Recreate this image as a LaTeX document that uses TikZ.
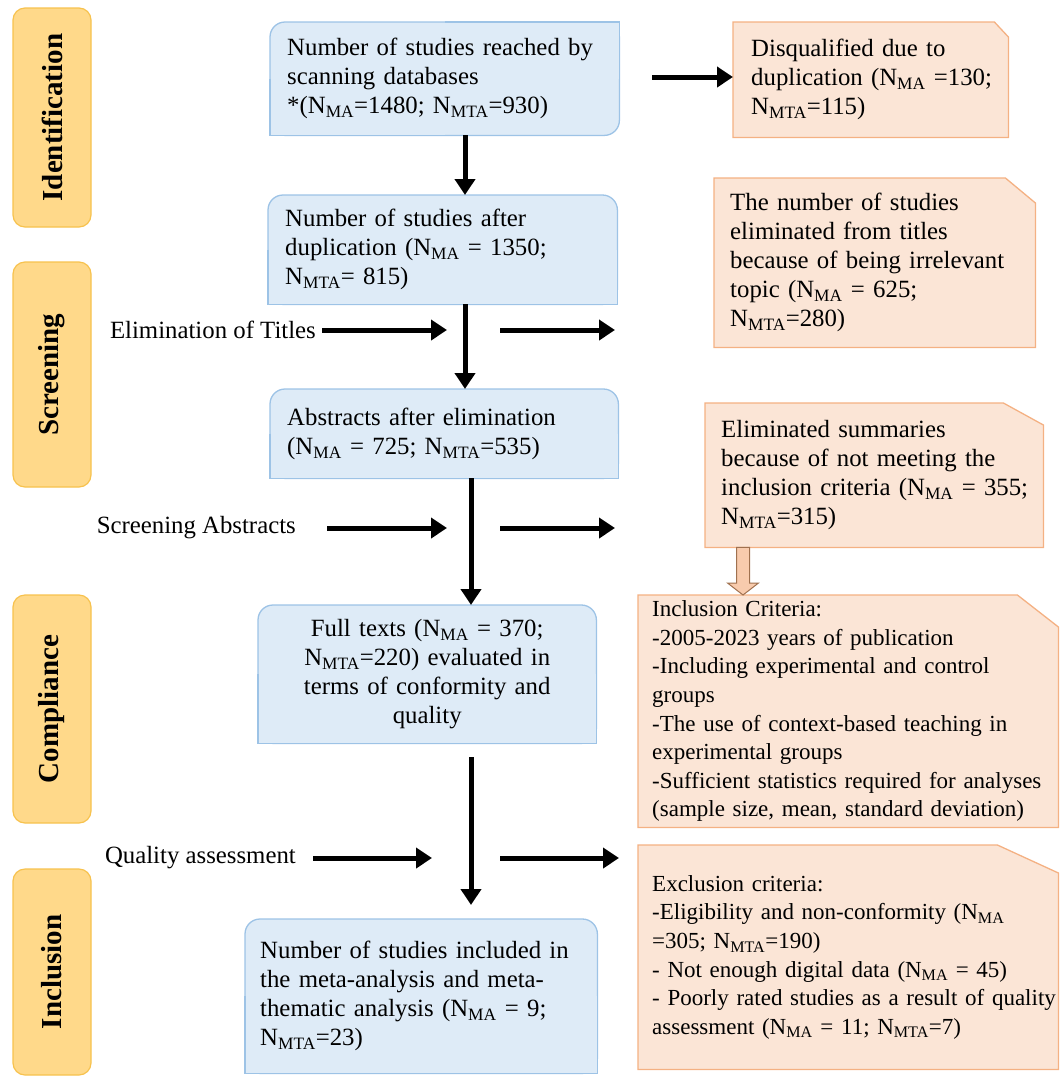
\documentclass[tikz,border=0pt]{standalone}
\usepackage{fontspec}
\setmainfont{Liberation Serif}
\usetikzlibrary{arrows.meta,calc,backgrounds}
\definecolor{bfill}{HTML}{DEEBF7}
\definecolor{bline}{HTML}{9DC3E6}
\definecolor{ofill}{HTML}{FBE5D6}
\definecolor{oline}{HTML}{F4B183}
\definecolor{pfill}{HTML}{FFD98A}
\definecolor{pline}{HTML}{F7C24E}
\definecolor{hfill}{HTML}{F8CBAD}
\definecolor{hline}{HTML}{A0714F}
\newcommand\nsub[1]{N\textsubscript{#1}}
\newcommand\tl[1]{\mbox{#1}}
% blue box: top corners rounded
\newcommand\bluetop[1]{%
  \path[bpath,fill=bfill,rounded corners=15pt] (#1.south west) rectangle (#1.north east);
  \fill[bfill] (#1.south west) rectangle (#1.east);
  \draw[bpath] (#1.west) |- (#1.south east) -- (#1.east);}
% blue box: top-left and bottom-right rounded
\newcommand\bluediag[1]{%
  \path[bpath,fill=bfill,rounded corners=15pt] (#1.south west) rectangle (#1.north east);
  \fill[bfill] (#1.center) rectangle (#1.north east);
  \fill[bfill] (#1.center) rectangle (#1.south west);
  \draw[bpath] (#1.north) -| (#1.east);
  \draw[bpath] (#1.west) |- (#1.south);}
% orange box: top-right corner snipped
\newcommand\orsnip[3]{%
  \path[opath] (#1.south west) -- (#1.north west) -- ($(#1.north east)+(-#2,0)$)
     -- ($(#1.north east)+(0,#3)$) -- (#1.south east) -- cycle;}
\begin{document}
\begin{tikzpicture}[x=1pt,y=-1pt,
  txt/.style={font=\fontsize{24.8}{29}\selectfont},
  smalltxt/.style={font=\fontsize{23}{28.6}\selectfont},
  box/.style={draw=none,inner ysep=0pt,align=left,anchor=north west},
  bpath/.style={draw=bline,line width=1.3pt},
  opath/.style={draw=oline,fill=ofill,line width=1.3pt},
  phase/.style={rotate=90,minimum width=219pt,minimum height=78pt,rounded corners=12pt,
    fill=pfill,draw=pline,line width=1.2pt,inner sep=0pt,
    font=\bfseries\fontsize{29}{33}\selectfont},
  lab/.style={txt,inner sep=6pt,anchor=east},
  arr/.style={line width=5pt,-{Triangle[length=16pt,width=20pt]}}
]
\useasboundingbox (0,0) rectangle (1061,1077);

% phase labels
\node[phase,minimum width=219pt] (p1) at (52,117.5) {Identification};
\node[phase,minimum width=225pt] (p2) at (52,374.5) {Screening};
\node[phase,minimum width=228pt] (p3) at (52,709) {Compliance};
\node[phase,minimum width=206pt] (p4) at (52,972) {Inclusion};

% blue boxes
\node[box,txt,inner xsep=17pt,minimum width=349pt,text width=315pt,minimum height=113pt] (b1) at (270,22)
  {\tl{Number of studies reached by}\\ \tl{scanning databases}\\ \tl{*(\nsub{MA}=1480; \nsub{MTA}=930)}};
\node[box,txt,inner xsep=17pt,minimum width=349pt,text width=315pt,minimum height=109pt] (b2) at (268,195)
  {\tl{Number of studies after}\\ \tl{duplication (\nsub{MA} = 1350;}\\ \tl{\nsub{MTA}= 815)}};
\node[box,txt,inner xsep=17pt,minimum width=348pt,text width=314pt,minimum height=89pt] (b3) at (270,389)
  {\tl{Abstracts after elimination}\\ \tl{(\nsub{MA} = 725; \nsub{MTA}=535)}};
\node[box,txt,inner xsep=12pt,minimum width=338pt,text width=314pt,minimum height=138pt,align=center] (b4) at (258,605)
  {\tl{Full texts (\nsub{MA} = 370;}\\ \tl{\nsub{MTA}=220) evaluated in}\\ \tl{terms of conformity and}\\ \tl{quality}};
\node[box,txt,inner xsep=15pt,minimum width=352pt,text width=322pt,minimum height=154pt] (b5) at (245,919)
  {\tl{Number of studies included in}\\ \tl{the meta-analysis and meta-}\\ \tl{thematic analysis (\nsub{MA} = 9;}\\ \tl{\nsub{MTA}=23)}};

% orange boxes
\node[box,txt,inner xsep=18pt,minimum width=275pt,text width=239pt,minimum height=115pt] (o1) at (733,22)
  {\tl{Disqualified due to}\\ \tl{duplication (\nsub{MA} =130;}\\ \tl{\nsub{MTA}=115)}};
\node[box,txt,inner xsep=16pt,minimum width=321pt,text width=289pt,minimum height=169pt] (o2) at (714,178)
  {\tl{The number of studies}\\ \tl{eliminated from titles}\\ \tl{because of being irrelevant}\\ \tl{topic (\nsub{MA} = 625;}\\ \tl{\nsub{MTA}=280)}};
\node[box,txt,inner xsep=16pt,minimum width=338pt,text width=306pt,minimum height=144pt] (o3) at (705,403)
  {\tl{Eliminated summaries}\\ \tl{because of not meeting the}\\ \tl{inclusion criteria (\nsub{MA} = 355;}\\ \tl{\nsub{MTA}=315)}};
\node[box,smalltxt,inner xsep=14pt,minimum width=420pt,text width=392pt,minimum height=232pt] (o4) at (638,595)
  {\tl{Inclusion Criteria:}\\ \tl{-2005-2023 years of publication}\\ \tl{-Including experimental and control}\\ \tl{groups}\\ \tl{-The use of context-based teaching in}\\ \tl{experimental groups}\\ \tl{-Sufficient statistics required for analyses}\\ \tl{(sample size, mean, standard deviation)}};
\node[box,smalltxt,inner xsep=14pt,minimum width=420pt,text width=392pt,minimum height=224pt] (o5) at (638,845)
  {\tl{Exclusion criteria:}\\ \tl{-Eligibility and non-conformity (\nsub{MA}}\\ \tl{=305; \nsub{MTA}=190)}\\ \tl{- Not enough digital data (\nsub{MA} = 45)}\\ \tl{- Poorly rated studies as a result of quality}\\ \tl{assessment (\nsub{MA} = 11; \nsub{MTA}=7)}};

\begin{scope}[on background layer]
  \bluediag{b1}
  \bluetop{b2}
  \bluetop{b3}
  \bluetop{b4}
  \bluetop{b5}
  \orsnip{o1}{14}{15}
  \orsnip{o2}{30}{25}
  \orsnip{o3}{40}{22}
  \orsnip{o4}{41}{32}
  \orsnip{o5}{61}{28}
\end{scope}

% side labels
\node[lab] (t1) at (322,330) {Elimination of Titles};
\node[lab] (t2) at (302,528) {Screening Abstracts};
\node[lab] (t3) at (302,858) {Quality assessment};

% column coordinates
\coordinate (colA) at (465,0);
\coordinate (colB) at (471,0);
\coordinate (hx) at (743,0);

% vertical flow
\draw[arr] (b1.south -| colA) -- (b2.north -| colA);
\draw[arr] (b2.south -| colA) -- (b3.north -| colA);
\draw[arr] (b3.south -| colB) -- (b4.north -| colB);
\draw[arr,shorten <=14pt,shorten >=14pt] (b4.south -| colB) -- (b5.north -| colB);

% top right arrow
\draw[arr,shorten <=33pt] (b1.east |- 0,77) -- (o1.west |- 0,77);

% label arrows
\coordinate (t1e) at (447,330);
\coordinate (t2e) at (447,528);
\coordinate (t3e) at (432,858);
\draw[arr] (t1.east) -- (t1e);
\draw[arr,shorten <=25pt] (t2.east) -- (t2e);
\draw[arr,shorten <=11pt] (t3.east) -- (t3e);

% right free arrows
\coordinate (r1s) at (500,330); \coordinate (r1e) at (615,330);
\coordinate (r2s) at (500,528); \coordinate (r2e) at (615,528);
\coordinate (r3s) at (500,858); \coordinate (r3e) at (619,858);
\draw[arr] (r1s) -- (r1e);
\draw[arr] (r2s) -- (r2e);
\draw[arr] (r3s) -- (r3e);

% hollow arrow between o3 and o4
\path[fill=hfill,draw=hline,line width=1pt]
  ($(o3.south -| hx)+(-6.5,0)$) -- ($(o4.north -| hx)+(-6.5,-12)$)
  -- ($(o4.north -| hx)+(-15.5,-12)$) -- (o4.north -| hx)
  -- ($(o4.north -| hx)+(15.5,-12)$) -- ($(o4.north -| hx)+(6.5,-12)$)
  -- ($(o3.south -| hx)+(6.5,0)$) -- cycle;
\end{tikzpicture}
\end{document}
